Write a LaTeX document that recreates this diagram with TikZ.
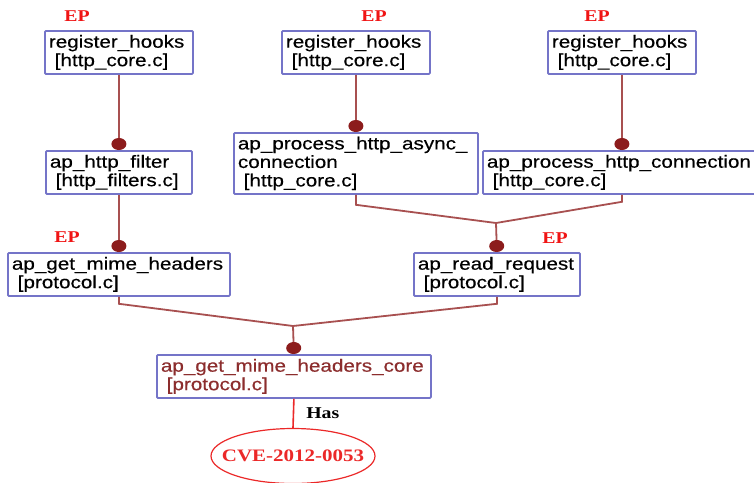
\documentclass[tikz,border=0pt]{standalone}
\usepackage{fontspec}
\usepackage{tikz}
\usetikzlibrary{arrows.meta, positioning, shapes.geometric}

\newfontfamily\boxfont[FakeStretch=1.18, FakeBold=0.4]{Liberation Sans}
\newfontfamily\tagfont[FakeStretch=1.2]{Liberation Serif}

\definecolor{boxblue}{RGB}{116,116,200}
\definecolor{edgered}{RGB}{168,80,80}
\definecolor{dotred}{RGB}{140,28,28}
\definecolor{corered}{RGB}{140,45,45}
\definecolor{epred}{RGB}{240,20,20}
\definecolor{cvered}{RGB}{235,40,40}

\begin{document}
\begin{tikzpicture}[
    x=1pt, y=-1pt,
    func/.style={rectangle, rounded corners=1pt, draw=boxblue, line width=1.8pt, fill=white, align=left, anchor=north west, inner xsep=4pt, inner ysep=2pt, minimum height=43pt, font=\boxfont\fontsize{17.5}{18.5}\selectfont},
    ep/.style={text=epred, inner sep=0pt, font=\tagfont\bfseries\fontsize{16.5}{16.5}\selectfont},
    call/.style={draw=edgered, line width=1.8pt, -{Circle[length=12pt, width=15pt, color=dotred]}},
    joinline/.style={draw=edgered, line width=1.8pt},
    vuln/.style={ellipse, draw=cvered, line width=1.2pt, inner sep=0pt, minimum width=164pt, minimum height=55pt, text=cvered, font=\tagfont\bfseries\fontsize{17.5}{17.5}\selectfont},
    has/.style={draw=cvered, line width=1.6pt},
    hastext/.style={inner sep=0pt, font=\tagfont\bfseries\fontsize{16.5}{16.5}\selectfont}
]
\path[use as bounding box, clip] (0,0) rectangle (754,482);

% entry points
\node[func, text width=140pt] (reg1) at (44,30) {register\_hooks\\~[http\_core.c]};
\node[func, text width=140pt] (reg2) at (281,30) {register\_hooks\\~[http\_core.c]};
\node[func, text width=140pt] (reg3) at (547,30) {register\_hooks\\~[http\_core.c]};

\node[ep] (ep1) at (77,16) {EP};
\node[ep] (ep2) at (374,16) {EP};
\node[ep] (ep3) at (597,16) {EP};

% second level
\node[func, text width=138pt] (filter) at (45,150) {ap\_http\_filter\\~[http\_filters.c]};
\node[func, text width=236pt, minimum height=61pt] (async) at (233,132) {ap\_process\_http\_async\_\\connection\\~[http\_core.c]};
\node[func, text width=270pt] (conn) at (482,150) {ap\_process\_http\_connection\\~[http\_core.c]};

% third level
\node[func, text width=214pt] (mime) at (7,252) {ap\_get\_mime\_headers\\~[protocol.c]};
\node[func, text width=158pt] (read) at (413,252) {ap\_read\_request\\~[protocol.c]};

\node[ep] (ep4) at (67,237) {EP};
\node[ep] (ep5) at (555,238) {EP};

% vulnerable function
\node[func, text width=266pt, text=corered] (core) at (156,354) {ap\_get\_mime\_headers\_core\\~[protocol.c]};
\node[vuln] (cve) at (293,456) {\makebox[0pt]{CVE-2012-0053}};

\coordinate (j1) at (496,223);
\coordinate (j2) at (293,326);

\draw[call] (reg1.south) -- (reg1.south |- filter.north);
\draw[call] (reg2.south) -- (async.north);
\draw[call] (reg3.south) -- (conn.north);

\draw[call] (filter.south) -- (filter.south |- mime.north);
\draw[joinline] (async.south) -- ++(0,10) -- (j1);
\draw[joinline] (conn.south) -- ++(0,7) -- (j1);
\draw[call] (j1) -- (read.north);

\draw[joinline] (mime.south) -- ++(0,7) -- (j2);
\draw[joinline] (read.south) -- ++(0,7) -- (j2);
\draw[call] (j2) -- (core.north);

\draw[has] (core.south) -- node[hastext, right=12pt] (haslbl) {Has} (cve.north);

\end{tikzpicture}
\end{document}
